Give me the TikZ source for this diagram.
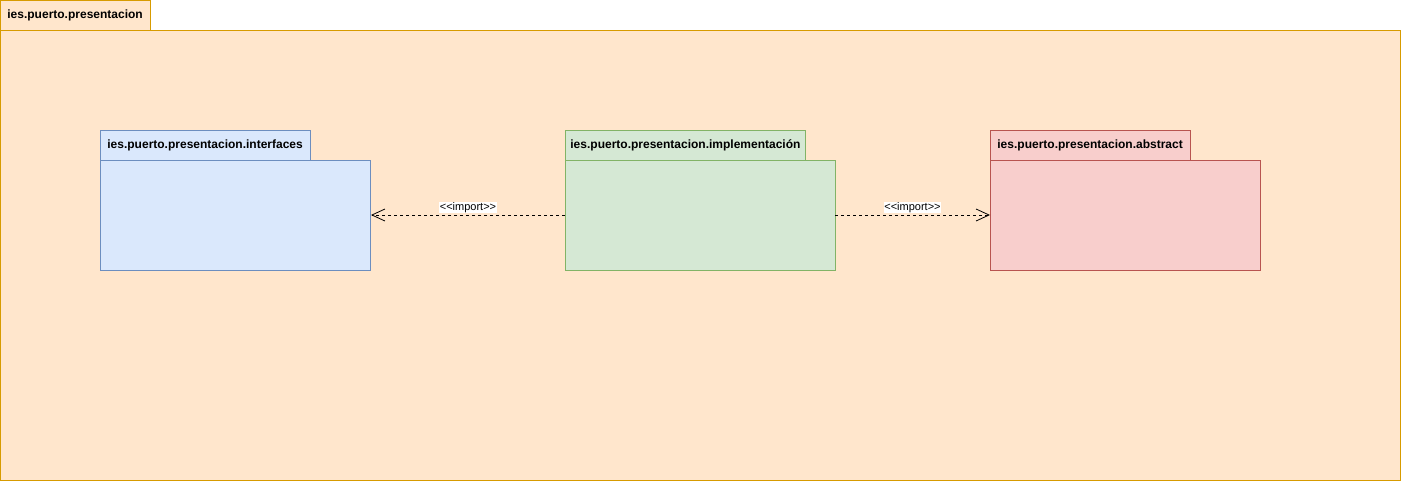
\documentclass[tikz,border=0pt]{standalone}
\usepackage{fontspec}
\setmainfont{Liberation Sans}
\usetikzlibrary{arrows.meta}
\definecolor{orfill}{HTML}{FFE6CC}\definecolor{ordraw}{HTML}{D79B00}
\definecolor{blfill}{HTML}{DAE8FC}\definecolor{bldraw}{HTML}{6C8EBF}
\definecolor{grfill}{HTML}{D5E8D4}\definecolor{grdraw}{HTML}{82B366}
\definecolor{rdfill}{HTML}{F8CECC}\definecolor{rddraw}{HTML}{B85450}
\tikzset{
  pkgtitle/.style={font=\bfseries\fontsize{12}{14}\selectfont, anchor=west, inner sep=0pt},
  implabel/.style={font=\fontsize{11}{12}\selectfont, fill=white, inner sep=0.5pt},
  dep/.style={dashed, dash pattern=on 3pt off 3pt, line width=0.8pt, -{Straight Barb[length=13pt,width=12pt,line width=0.8pt]}},
}
\begin{document}
\begin{tikzpicture}[x=1pt,y=-1pt, line width=0.8pt]
\useasboundingbox (0,0) rectangle (1401,482);
% outer package
\draw[ordraw, fill=orfill] (0.5,0.5) rectangle (150.5,30.5);
\draw[ordraw, fill=orfill] (0.5,30.5) rectangle (1400.5,480.5);
\node[pkgtitle] (outertitle) at (7,15.5) {ies.puerto.presentacion};
% interfaces
\draw[bldraw, fill=blfill] (100.5,130.5) rectangle (310.5,160.5);
\draw[bldraw, fill=blfill] (100.5,160.5) rectangle (370.5,270.5);
\node[pkgtitle] (ititle) at (107,145.5) {ies.puerto.presentacion.interfaces};
\coordinate (ibody) at (371,215);
% implementation
\draw[grdraw, fill=grfill] (565.5,130.5) rectangle (805.5,160.5);
\draw[grdraw, fill=grfill] (565.5,160.5) rectangle (835.5,270.5);
\node[pkgtitle] (mtitle) at (570,145.5) {ies.puerto.presentacion.implementación};
\coordinate (mleft) at (565,215);
\coordinate (mright) at (835,215);
% abstract
\draw[rddraw, fill=rdfill] (990.5,130.5) rectangle (1190.5,160.5);
\draw[rddraw, fill=rdfill] (990.5,160.5) rectangle (1260.5,270.5);
\node[pkgtitle] (atitle) at (997,145.5) {ies.puerto.presentacion.abstract};
\coordinate (abody) at (990,215);
% dependencies
\draw[dep] (mleft) -- (ibody);
\draw[dep] (mright) -- (abody);
\node[implabel] (l1) at (468,207.5) {{<}{<}import{>}{>}};
\node[implabel] (l2) at (912.5,207.5) {{<}{<}import{>}{>}};
\end{tikzpicture}
\end{document}
